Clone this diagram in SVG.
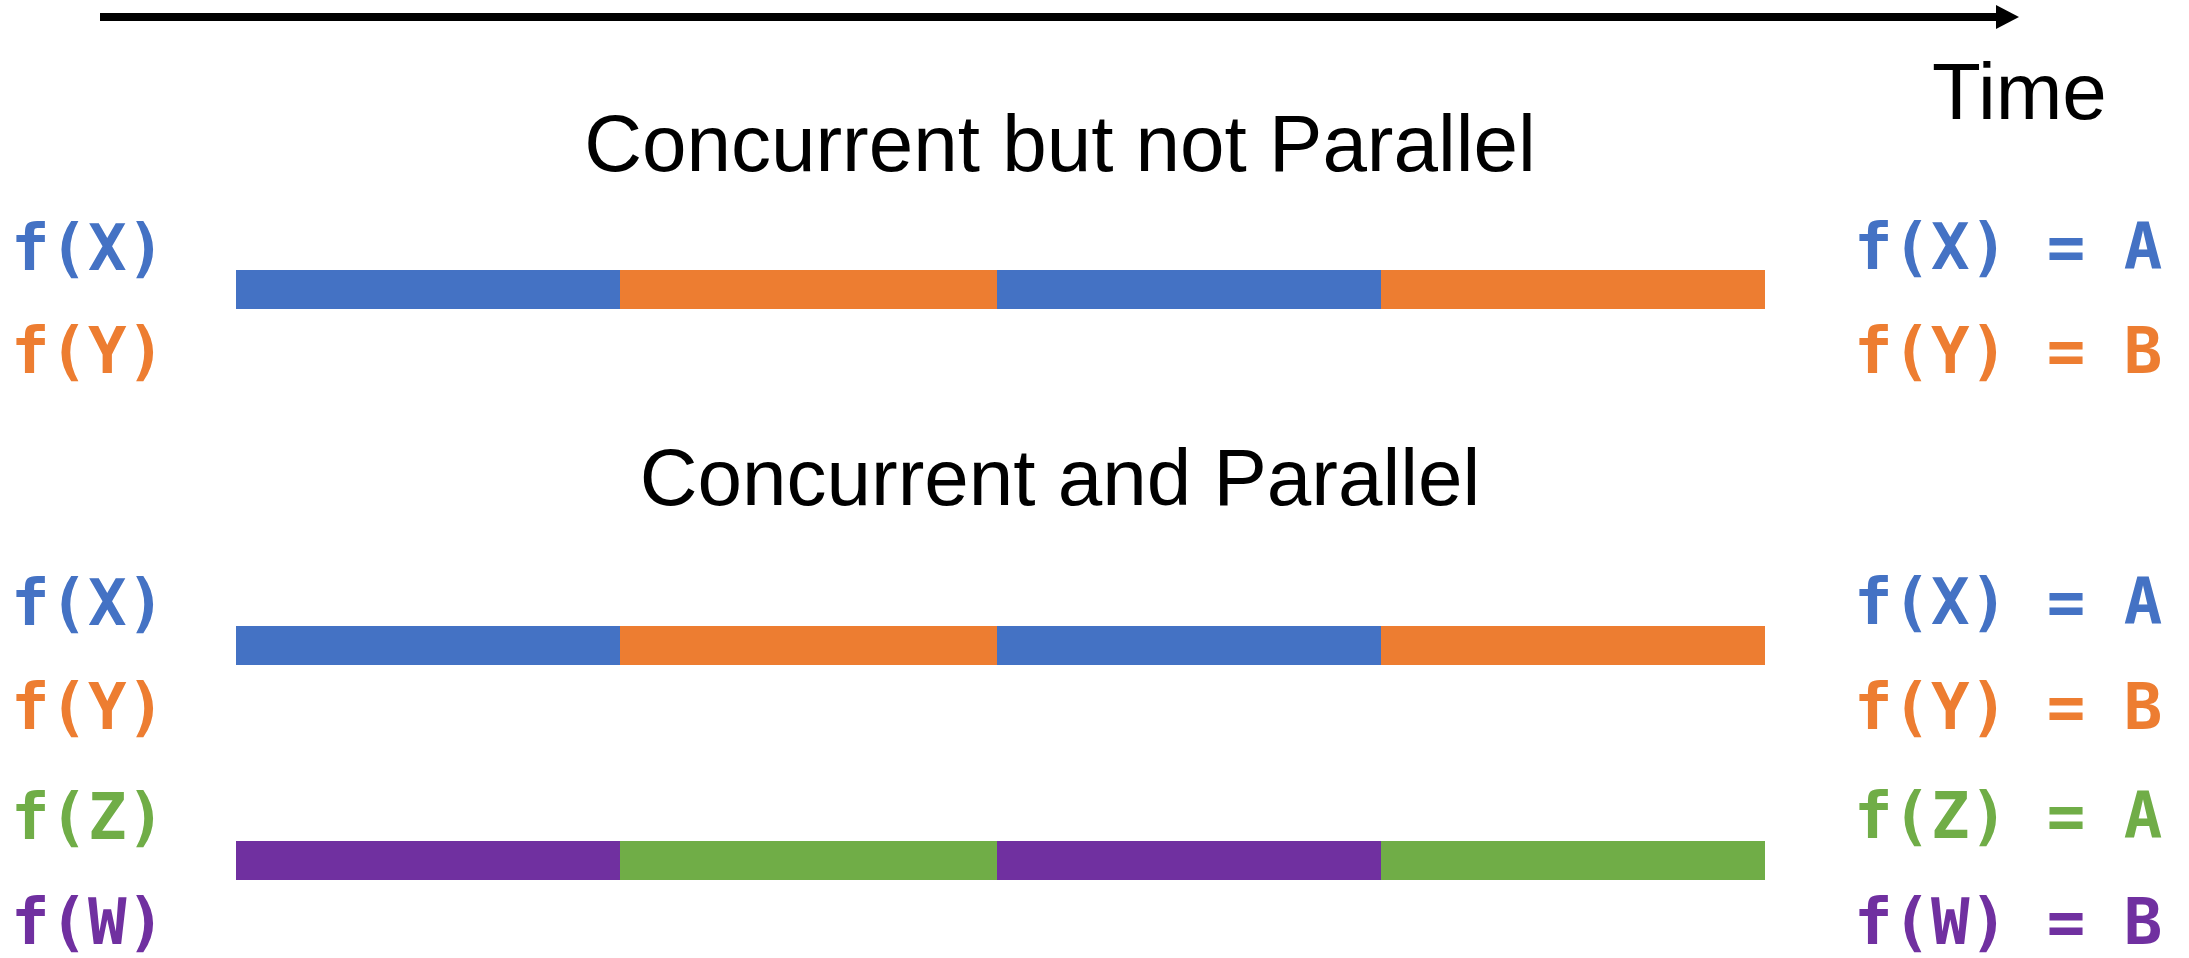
<svg xmlns="http://www.w3.org/2000/svg" width="2189" height="958" viewBox="0 0 2189 958">
  <style>
    .title { font-family: "Liberation Sans", Arial, sans-serif; font-size: 80px; fill: #000; }
    .fn { font-family: "DejaVu Sans Mono", "Liberation Mono", monospace; font-weight: bold; font-size: 64px; }
    .blue { fill: #4472C4; }
    .orange { fill: #ED7D31; }
    .green { fill: #70AD47; }
    .purple { fill: #7030A0; }
  </style>
  <defs>
    <marker id="arrowhead" markerUnits="userSpaceOnUse" markerWidth="23" markerHeight="24" refX="0" refY="12" orient="auto">
      <polygon points="0,0 23,12 0,24" fill="#000"/>
    </marker>
  </defs>

  <rect width="2189" height="958" fill="#fff"/>

  <!-- time axis -->
  <g id="connectors">
    <line x1="100" y1="17" x2="1996" y2="17" stroke="#000" stroke-width="8" marker-end="url(#arrowhead)"/>
  </g>
  <g id="time-label">
    <text class="title" x="1932" y="119">Time</text>
  </g>

  <!-- section 1 -->
  <g id="title-concurrent">
    <text class="title" x="1060" y="171" text-anchor="middle">Concurrent but not Parallel</text>
  </g>
  <g id="labels-left-1" class="fn">
    <text class="blue" x="11" y="270">f(X)</text>
    <text class="orange" x="11" y="373">f(Y)</text>
  </g>
  <g id="timeline-1">
    <rect class="blue" x="236" y="270" width="384" height="39"/>
    <rect class="orange" x="620" y="270" width="377" height="39"/>
    <rect class="blue" x="997" y="270" width="384" height="39"/>
    <rect class="orange" x="1381" y="270" width="384" height="39"/>
  </g>
  <g id="results-1" class="fn">
    <text class="blue" x="1854" y="269">f(X) = A</text>
    <text class="orange" x="1854" y="373">f(Y) = B</text>
  </g>

  <!-- section 2 -->
  <g id="title-parallel">
    <text class="title" x="1060" y="505" text-anchor="middle">Concurrent and Parallel</text>
  </g>
  <g id="labels-left-2" class="fn">
    <text class="blue" x="11" y="625">f(X)</text>
    <text class="orange" x="11" y="729">f(Y)</text>
    <text class="green" x="11" y="839">f(Z)</text>
    <text class="purple" x="11" y="944">f(W)</text>
  </g>
  <g id="timeline-2">
    <rect class="blue" x="236" y="626" width="384" height="39"/>
    <rect class="orange" x="620" y="626" width="377" height="39"/>
    <rect class="blue" x="997" y="626" width="384" height="39"/>
    <rect class="orange" x="1381" y="626" width="384" height="39"/>
  </g>
  <g id="timeline-3">
    <rect class="purple" x="236" y="841" width="384" height="39"/>
    <rect class="green" x="620" y="841" width="377" height="39"/>
    <rect class="purple" x="997" y="841" width="384" height="39"/>
    <rect class="green" x="1381" y="841" width="384" height="39"/>
  </g>
  <g id="results-2" class="fn">
    <text class="blue" x="1854" y="624">f(X) = A</text>
    <text class="orange" x="1854" y="729">f(Y) = B</text>
    <text class="green" x="1854" y="838">f(Z) = A</text>
    <text class="purple" x="1854" y="944">f(W) = B</text>
  </g>
</svg>
